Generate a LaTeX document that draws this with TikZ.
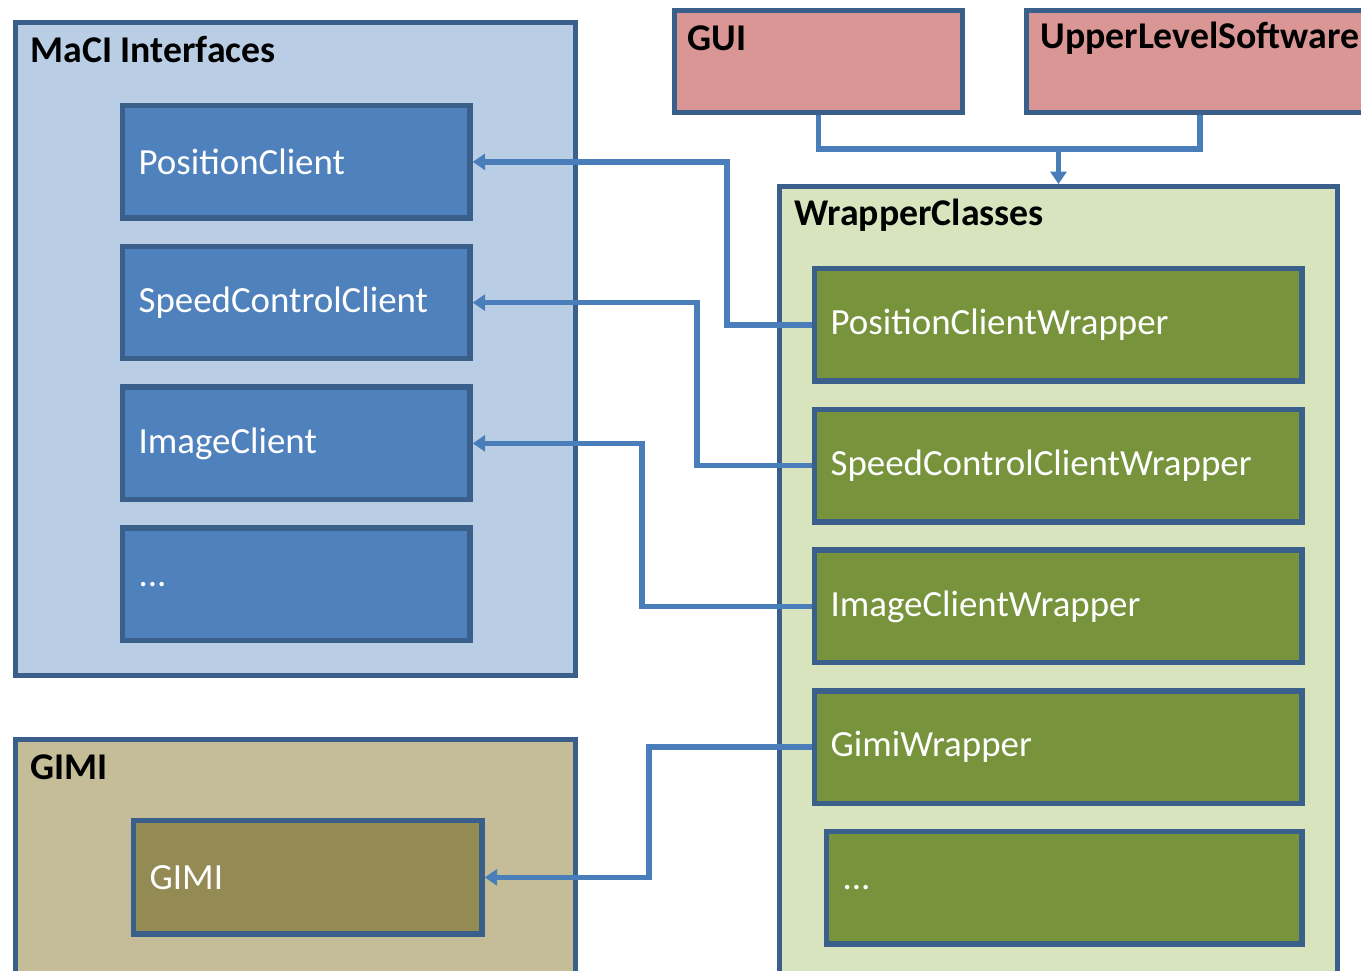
\documentclass[tikz,border=0pt]{standalone}
\usepackage{fontspec}
\setmainfont{Carlito}
\usepackage{xcolor}
\usetikzlibrary{positioning,arrows.meta,calc}

\definecolor{edgeblue}{HTML}{3A5F8B}
\definecolor{linkblue}{HTML}{4A7EBB}
\definecolor{maciback}{HTML}{B9CDE5}
\definecolor{maciitem}{HTML}{4F81BD}
\definecolor{guired}{HTML}{D99694}
\definecolor{wrapback}{HTML}{D7E4BD}
\definecolor{wrapitem}{HTML}{77933C}
\definecolor{gimiback}{HTML}{C4BD97}
\definecolor{gimiitem}{HTML}{948A54}

\begin{document}
\begin{tikzpicture}[
    x=0.02cm, y=-0.02cm,
    >=Stealth,
    textsize/.style={font=\fontsize{21}{25}\selectfont},
    group/.style={draw=edgeblue, line width=2.6pt, anchor=north west, inner sep=0pt},
    title/.style={font=\fontsize{21.5}{25}\selectfont\bfseries, anchor=west, inner sep=0pt},
    item/.style={draw=edgeblue, line width=3pt, textsize, text=white, align=left,
                 inner xsep=0.32cm, inner ysep=0pt, minimum height=2.25cm},
    client/.style={item, fill=maciitem, minimum width=6.95cm, text width=6.31cm},
    wrapbox/.style={item, fill=wrapitem, minimum width=9.75cm, text width=9.11cm},
    gimibox/.style={item, fill=gimiitem, minimum width=6.97cm, text width=6.33cm, minimum height=2.27cm},
    link/.style={draw=linkblue, line width=3pt},
    arrow/.style={link, -{Triangle[length=7pt,width=9pt]}},
]
    \useasboundingbox (0,0) rectangle (1361,970);
    \clip (0,0) rectangle (1361,970);
    \fill[white] (0,0) rectangle (1361,970);

    % Groups
    \node[group, fill=maciback, minimum width=11.21cm, minimum height=13.07cm] (maci) at (13,20) {};
    \node[group, fill=gimiback, minimum width=11.21cm, minimum height=5cm] (gimi) at (13,737) {};
    \node[group, fill=guired, minimum width=5.77cm, minimum height=2.05cm] (gui) at (672,8) {};
    \node[group, fill=guired, minimum width=6.95cm, minimum height=2.05cm] (uls) at (1024,8) {};
    \node[group, fill=wrapback, minimum width=11.17cm, minimum height=16cm] (wrap) at (777,184) {};

    \node[title] at ($(maci.north west)+(17,30)$) {MaCI Interfaces};
    \node[title] at ($(gimi.north west)+(17,30)$) {GIMI};
    \node[title] at ($(gui.north west)+(15,30)$) {GUI};
    \node[title] at ($(uls.north west)+(16,30)$) {UpperLevelSoftware};
    \node[title] at ($(wrap.north west)+(17,31)$) {WrapperClasses};

    % MaCI clients
    \node[client, anchor=north west] (pc) at (120,103) {PositionClient};
    \node[client, below=0.46cm of pc]  (scc) {SpeedControlClient};
    \node[client, below=0.46cm of scc] (ic)  {ImageClient};
    \node[client, below=0.46cm of ic]  (cmore) {...};

    % GIMI
    \node[gimibox, anchor=north west] (gm) at (131,818) {GIMI};

    % Wrappers
    \node[wrapbox, anchor=north west] (pcw) at (812,266) {PositionClientWrapper};
    \node[wrapbox, below=0.46cm of pcw] (sccw) {SpeedControlClientWrapper};
    \node[wrapbox, below=0.46cm of sccw] (icw) {ImageClientWrapper};
    \node[wrapbox, below=0.46cm of icw]  (gw)  {GimiWrapper};
    \node[wrapbox, minimum width=9.51cm, text width=8.87cm,
          below=0.46cm of gw.south east, anchor=north east] (wmore) {...};

    % Upper level into the wrappers
    \draw[link] (gui.south) -- ++(0,34) coordinate (gj) -| (uls.south);
    \draw[arrow] (gj -| wrap.north) -- (wrap.north);

    % Wrappers to clients
    \draw[arrow] (pcw.west)  -- ++(-85,0)  |- (pc.east);
    \draw[arrow] (sccw.west) -- ++(-115,0) |- (scc.east);
    \draw[arrow] (icw.west)  -- ++(-170,0) |- (ic.east);
    \draw[arrow] (gw.west)   -- ++(-163,0) |- (gm.east);
\end{tikzpicture}
\end{document}
